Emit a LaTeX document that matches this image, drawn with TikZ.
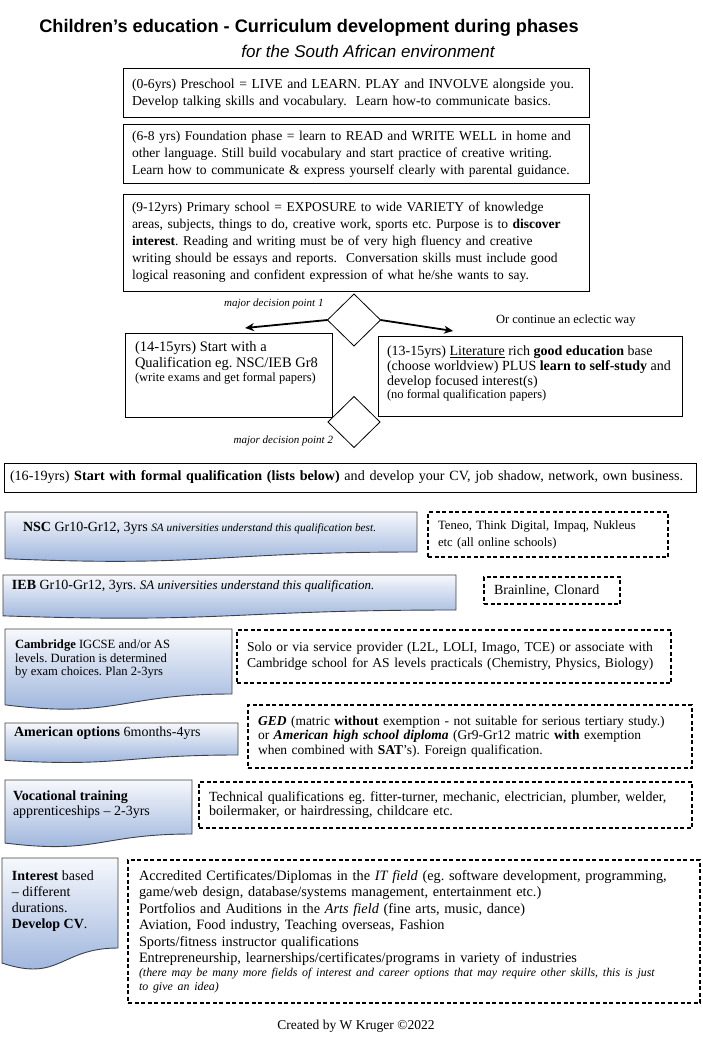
\documentclass[tikz,border=0pt]{standalone}
\usepackage{fontspec}
\setmainfont{Liberation Serif}
\newfontfamily\headfont{Liberation Sans}
\usetikzlibrary{positioning, calc, arrows.meta, shapes.geometric}

\definecolor{doctop}{RGB}{246,248,252}
\definecolor{docbottom}{RGB}{150,175,218}

% bottom edge of a Word style document shape, drawn round an empty node
\newcommand{\docoutline}[1]{%
  \path [docfill] (#1.north west) -- (#1.north east) -- (#1.south east)
    .. controls (#1.south) and ($(#1.south)!-0.383!(#1.north)$)
    .. ($(#1.south west)!-0.167!(#1.north west)$) -- cycle;}

\tikzset{
every node/.style = {inner sep = 0pt, outer sep = 0pt},
body/.style = {font = \fontsize{14}{17}\selectfont},
phase/.style = {rectangle, draw, line width = 1pt, anchor = north west, align = left,
	inner xsep = 9pt, body},
provider/.style = {rectangle, draw, line width = 1.6pt, dash pattern = on 4pt off 2.5pt,
	anchor = north west, align = left, inner xsep = 11pt, body},
docbox/.style = {rectangle, anchor = north west},
doctext/.style = {align = left, body},
docfill/.style = {draw = black!75, line width = 0.9pt, top color = doctop,
	bottom color = docbottom},
decision/.style = {diamond, draw, line width = 0.8pt, fill = white, inner sep = 0pt},
choice/.style = {-{Stealth[length = 9pt, width = 8pt]}, line width = 1.8pt},
note/.style = {font = \fontsize{11}{13}\selectfont\itshape}
}

\begin{document}
\frenchspacing\hyphenpenalty=10000\exhyphenpenalty=10000
\begin{tikzpicture}[x = 1pt, y = -1pt]

\useasboundingbox (0,0) rectangle (703,1051);

%% Heading
\node (title) at (309,28) [font = \headfont\bfseries\fontsize{18.2}{21}\selectfont]
	{Children’s education - Curriculum development during phases};
\node (subtitle) at (368,51) [font = \headfont\itshape\fontsize{17}{19}\selectfont]
	{for the South African environment};

%% Early phases
\node (pre) at (123,69) [phase, text width = 448pt, minimum height = 49pt,
	font = \fontsize{13.7}{17}\selectfont]
	{(0-6yrs) Preschool = LIVE and LEARN. PLAY and INVOLVE alongside you.\\
	Develop talking skills and vocabulary.\ \ Learn how-to communicate basics.};
\node (found) at (123,125) [phase, text width = 448pt, minimum height = 59pt,
	font = \fontsize{13.6}{17}\selectfont]
	{(6-8 yrs) Foundation phase = learn to READ and WRITE WELL in home and\\
	other language. Still build vocabulary and start practice of creative writing.\\
	Learn how to communicate \& express yourself clearly with parental guidance.};
\node (prim) at (123,194) [phase, text width = 448pt, minimum height = 97pt,
	font = \fontsize{13.5}{17}\selectfont]
	{(9-12yrs) Primary school = EXPOSURE to wide VARIETY of knowledge\\
	areas, subjects, things to do, creative work, sports etc. Purpose is to \textbf{discover}\\
	\textbf{interest}. Reading and writing must be of very high fluency and creative\\
	writing should be essays and reports.\ \ Conversation skills must include good\\
	logical reasoning and confident expression of what he/she wants to say.};

%% Decision point 1
\node (d1) at (354,320) [decision, minimum width = 53pt, minimum height = 52pt] {};
\node (dp1) [note, above left = 11pt and 4pt of d1.west] {major decision point 1};

% Branches
\node (lbox) at (125,333) [phase, minimum width = 207pt, minimum height = 84pt] {};
\node (ltext) [below right = 8pt and 10pt of lbox.north west, align = left,
	font = \fontsize{14.5}{16}\selectfont]
	{(14-15yrs) Start with a\\Qualification eg. NSC/IEB Gr8\\[-2pt]
	{\fontsize{12.5}{14}\selectfont (write exams and get formal papers)}};
\node (rbox) at (378,336) [phase, minimum width = 304pt, minimum height = 80pt] {};
\node (rtext) [below right = 10pt and 9pt of rbox.north west, align = left,
	font = \fontsize{14}{15}\selectfont]
	{(13-15yrs) \underline{Literature} rich \textbf{good education} base\\
	(choose worldview) PLUS \textbf{learn to self-study} and\\
	develop focused interest(s)\\[-2pt]
	{\fontsize{12.5}{14}\selectfont (no formal qualification papers)}};

\draw [choice] (d1.west) -- ($(lbox.north west)!0.58!(lbox.north east) + (0,-5)$);
\draw [choice] (d1.east) -- ($(rbox.north west)!0.247!(rbox.north east) + (0,-5)$);
\node (eclectic) at (496,321) [anchor = west, font = \fontsize{12.5}{14}\selectfont]
	{Or continue an eclectic way};

%% Decision point 2
\node (d2) at (354,422) [decision, minimum width = 52pt, minimum height = 51pt] {};
\node (dp2) at (333,441) [note, anchor = east] {major decision point 2};

%% Formal qualification
\node (formal) at (4,463) [phase, text width = 680pt, inner xsep = 6pt,
	minimum height = 29pt, font = \fontsize{14.1}{17}\selectfont]
	{(16-19yrs) \textbf{Start with formal qualification (lists below)} and develop your CV, job shadow, network, own business.};

%% Streams
% NSC
\node (nsc) at (5,512) [docbox, minimum width = 412pt, minimum height = 40pt] {};
\docoutline{nsc}
\node (nsc text) [doctext, below right = 10pt and 18pt of nsc.north west]
	{\textbf{NSC} Gr10-Gr12, 3yrs {\fontsize{11.3}{13}\selectfont\itshape SA universities understand this qualification best.}};
\node (teneo) at (428,512) [provider, inner xsep = 10pt, text width = 220pt,
	minimum height = 45pt, font = \fontsize{12.7}{17}\selectfont]
	{Teneo, Think Digital, Impaq, Nukleus\\etc (all online schools)};

% IEB
\node (ieb) at (3,575) [docbox, minimum width = 453pt, minimum height = 35pt] {};
\docoutline{ieb}
\node (ieb text) [doctext, below right = 5pt and 9pt of ieb.north west]
	{\textbf{IEB} Gr10-Gr12, 3yrs. {\fontsize{13}{15}\selectfont\itshape SA universities understand this qualification.}};
\node (brainline) at (484,577) [provider, inner xsep = 10pt, text width = 116pt,
	minimum height = 27pt] {Brainline, Clonard};

% Cambridge
\node (cam) at (5,629) [docbox, minimum width = 227pt, minimum height = 65pt] {};
\docoutline{cam}
\node (cam text) [doctext, below right = 11pt and 10pt of cam.north west,
	font = \fontsize{12.6}{13.5}\selectfont]
	{\textbf{Cambridge} IGCSE and/or AS\\levels. Duration is determined\\by exam choices. Plan 2-3yrs};
\node (solo) at (237,630) [provider, inner xsep = 10pt, text width = 414pt,
	minimum height = 53pt, font = \fontsize{13.6}{16}\selectfont]
	{Solo or via service provider (L2L, LOLI, Imago, TCE) or associate with\\
	Cambridge school for AS levels practicals (Chemistry, Physics, Biology)};

% American
\node (usa) at (5,723) [docbox, minimum width = 233pt, minimum height = 32pt] {};
\docoutline{usa}
\node (usa text) [doctext, below right = 4pt and 9pt of usa.north west]
	{\textbf{American options} 6months-4yrs};
\node (ged) at (248,705) [provider, inner xsep = 10pt, text width = 424pt,
	minimum height = 63pt, font = \fontsize{13.5}{14.5}\selectfont]
	{\textbf{\textit{GED}} (matric \textbf{without} exemption - not suitable for serious tertiary study.)\\
	or \textbf{\textit{American high school diploma}} (Gr9-Gr12 matric \textbf{with} exemption\\
	when combined with \textbf{SAT}’s). Foreign qualification.};

% Vocational
\node (voc) at (5,780) [docbox, minimum width = 187pt, minimum height = 54pt] {};
\docoutline{voc}
\node (voc text) [doctext, below right = 11pt and 8pt of voc.north west,
	font = \fontsize{14}{15}\selectfont]
	{\textbf{Vocational training}\\apprenticeships – 2-3yrs};
\node (tech) at (199,782) [provider, inner xsep = 10pt, text width = 473pt,
	minimum height = 46pt, font = \fontsize{14}{14.5}\selectfont]
	{Technical qualifications eg. fitter-turner, mechanic, electrician, plumber, welder,\\
	boilermaker, or hairdressing, childcare etc.};

% Interest based
\node (int) at (2,858) [docbox, minimum width = 116pt, minimum height = 90pt] {};
\docoutline{int}
\node (int text) [doctext, below right = 13pt and 10pt of int.north west,
	font = \fontsize{14}{16}\selectfont]
	{\textbf{Interest} based\\– different\\durations.\\\textbf{Develop CV}.};
\node (fields) at (128,860) [provider, text width = 550pt, minimum height = 143pt,
	font = \fontsize{14.3}{16.5}\selectfont]
	{Accredited Certificates/Diplomas in the \textit{IT field} (eg. software development, programming,\\
	game/web design, database/systems management, entertainment etc.)\\
	Portfolios and Auditions in the \textit{Arts field} (fine arts, music, dance)\\
	Aviation, Food industry, Teaching overseas, Fashion\\
	Sports/fitness instructor qualifications\\
	Entrepreneurship, learnerships/certificates/programs in variety of industries\par
	{\fontsize{11.9}{14}\selectfont\itshape (there may be many more fields of interest and career options that may require other skills, this is just\\
	to give an idea)\par}};

%% Credit
\node (credit) at (356,1026) [font = \fontsize{13.5}{16}\selectfont] {Created by W Kruger ©2022};

\end{tikzpicture}
\end{document}
